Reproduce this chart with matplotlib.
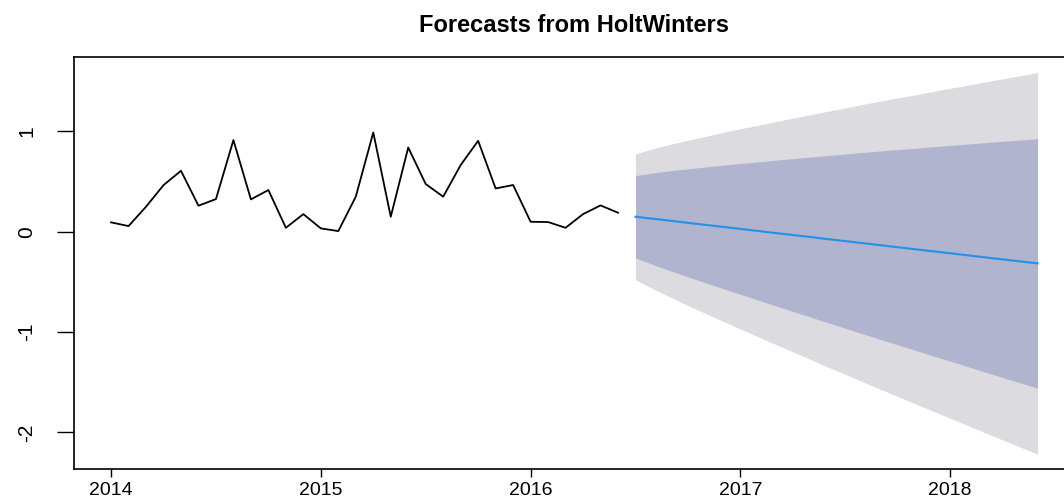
import matplotlib
matplotlib.use("Agg")
import matplotlib.pyplot as plt
import numpy as np

plt.rcParams['font.family'] = ['Liberation Sans', 'DejaVu Sans']

# Observed monthly series (Jan 2014 - Jun 2016)
start_year = 2014.0
observed = [0.094, 0.057, 0.25, 0.465, 0.608, 0.26, 0.326, 0.914, 0.323, 0.416,
            0.04, 0.176, 0.034, 0.007, 0.35, 0.99, 0.15, 0.84, 0.476, 0.35,
            0.665, 0.907, 0.432, 0.466, 0.10, 0.097, 0.04, 0.176, 0.263, 0.19]

# Forecast (Jul 2016 - Jun 2018)
fc_start = 2016.5
fc_mean = [0.150, 0.130, 0.110, 0.089, 0.069, 0.049, 0.029, 0.008, -0.012, -0.032,
           -0.052, -0.073, -0.093, -0.113, -0.133, -0.154, -0.174, -0.194, -0.214,
           -0.234, -0.255, -0.275, -0.295, -0.315]
hi95 = [0.777, 0.828, 0.872, 0.912, 0.951, 0.990, 1.027, 1.061, 1.097, 1.132,
        1.167, 1.201, 1.234, 1.269, 1.302, 1.334, 1.365, 1.398, 1.430, 1.461,
        1.493, 1.524, 1.555, 1.586]
lo95 = [-0.477, -0.568, -0.652, -0.734, -0.813, -0.892, -0.969, -1.045, -1.121, -1.196,
        -1.271, -1.347, -1.420, -1.495, -1.568, -1.642, -1.713, -1.786, -1.858, -1.929,
        -2.003, -2.074, -2.145, -2.216]
hi80 = [0.560, 0.586, 0.609, 0.627, 0.646, 0.664, 0.681, 0.696, 0.713, 0.729,
        0.745, 0.760, 0.775, 0.791, 0.805, 0.819, 0.832, 0.847, 0.861, 0.875,
        0.888, 0.902, 0.915, 0.928]
lo80 = [-0.260, -0.326, -0.389, -0.449, -0.508, -0.566, -0.623, -0.680, -0.737, -0.793,
        -0.849, -0.906, -0.961, -1.017, -1.071, -1.127, -1.180, -1.235, -1.289, -1.343,
        -1.398, -1.452, -1.505, -1.558]

x_ticks = [2014, 2015, 2016, 2017, 2018]
y_ticks = [-2, -1, 0, 1]
title = "Forecasts from HoltWinters"

t_obs = start_year + np.arange(len(observed)) / 12.0
t_fc = fc_start + np.arange(len(fc_mean)) / 12.0

W, H = 1064, 501
fig = plt.figure(figsize=(W / 100, H / 100), dpi=100)
left, right, top, bottom = 74.0, 1074.6, 57.4, 469.4
ax = fig.add_axes([left / W, 1 - bottom / H, (right - left) / W, (bottom - top) / H])

ax.fill_between(t_fc, lo95, hi95, color="#DBDBE0", lw=0)
ax.fill_between(t_fc, lo80, hi80, color="#B0B4CF", lw=0)
ax.plot(t_obs, observed, color="black", lw=1.3)
ax.plot(t_fc, fc_mean, color="#2390EA", lw=1.5)

xmin, xmax = start_year, t_fc[-1]
xr = xmax - xmin
ax.set_xlim(xmin - 0.04 * xr, xmax + 0.04 * xr)
ymin, ymax = min(lo95), max(hi95)
yr = ymax - ymin
ax.set_ylim(ymin - 0.04 * yr, ymax + 0.04 * yr)

ax.set_xticks(x_ticks)
ax.set_xticklabels([str(v) for v in x_ticks])
ax.set_yticks(y_ticks)
ax.set_yticklabels([str(v) for v in y_ticks], rotation=90, va="center")

ax.tick_params(axis="x", length=6, width=1.0, pad=3, labelsize=14)
ax.tick_params(axis="y", length=12, width=1.0, pad=15, labelsize=15)
for s in ax.spines.values():
    s.set_linewidth(1.2)

fig.text(574.5 / W, 1 - 25 / H, title, ha="center", va="center",
         fontsize=17, fontweight="bold")

fig.savefig("out.png", dpi=100)
